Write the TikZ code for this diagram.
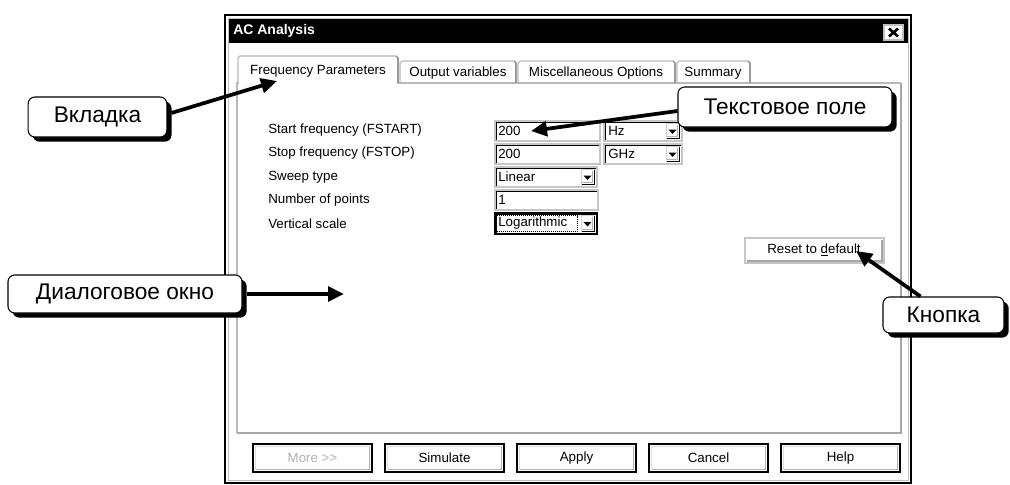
\documentclass[tikz,border=0pt]{standalone}
\usepackage{fontspec}
\setmainfont{Liberation Sans}
\usetikzlibrary{arrows.meta,shadows,calc}
\newcommand\uif{\fontsize{10}{12}\selectfont}
\newcommand\cof{\fontsize{17}{20}\selectfont}
\newcommand\sunkenbox[4]{%
  \fill[white] (#1,#2) rectangle (#3,#4);
  \draw[gray!45,line width=1.1pt] (#1,#2) rectangle (#3,#4);
  \draw[black,line width=0.8pt] ($(#1,#4)+(1.5,-1.5)$) -- ($(#1,#2)+(1.5,1.5)$) -- ($(#3,#2)+(-1.5,1.5)$);
}
\newcommand\combobox[4]{%
  \sunkenbox{#1}{#2}{#3}{#4}
  \fill[white] ($(#3,#2)+(-16,2.5)$) rectangle ($(#3,#4)+(-2.5,-2.5)$);
  \draw[black,line width=1pt] ($(#3,#2)+(-2.5,2.5)$) -- ($(#3,#4)+(-2.5,-2.5)$) -- ($(#3,#4)+(-16,-2.5)$);
  \draw[gray!60,line width=0.6pt] ($(#3,#2)+(-4.5,4)$) -- ($(#3,#4)+(-4.5,-4.5)$) -- ($(#3,#4)+(-15,-4.5)$);
  \draw[gray!35,line width=0.6pt] ($(#3,#4)+(-16,-2.5)$) -- ($(#3,#2)+(-16,2.5)$) -- ($(#3,#2)+(-2.5,2.5)$);
  \fill ($(#3,#2)!0.5!(#3,#4)+(-13.5,-1.5)$) -- ++(8,0) -- ++(-4,4.5) -- cycle;
}
\newcommand\raisedbtn[4]{%
  \fill[white] (#1,#2) rectangle (#3,#4);
  \draw[black,line width=1.5pt] (#1,#2) rectangle (#3,#4);
  \draw[gray!60,line width=0.9pt] ($(#1,#4)+(2.5,-2.5)$) -- ($(#3,#4)+(-2.5,-2.5)$) -- ($(#3,#2)+(-2.5,2.5)$);
  \draw[gray!25,line width=0.9pt] ($(#1,#4)+(2.5,-2.5)$) -- ($(#1,#2)+(2.5,2.5)$) -- ($(#3,#2)+(-2.5,2.5)$);
}
\tikzset{
  lbl/.style={font=\uif, inner sep=0pt, anchor=west},
  ctr/.style={font=\uif, inner sep=0pt},
  callout/.style={draw=black, line width=0.8pt, fill=white, rounded corners=5pt,
    font=\cof, inner sep=0pt, align=center,
    drop shadow={shadow xshift=3.5pt, shadow yshift=-3.5pt, opacity=1, fill=black}},
  pointer/.style={line width=2.8pt, -{Triangle[length=12pt,width=11pt]}}
}
\begin{document}
\begin{tikzpicture}[x=0.75pt,y=-0.75pt]
\useasboundingbox (0,0) rectangle (1010,485);
% window frame
\fill[white] (225,15) rectangle (911,483);
\draw[black,line width=2pt] (225,15) rectangle (911,483);
\draw[gray!50,line width=0.7pt] (228,18) rectangle (908,480);
\fill[black] (229,19) rectangle (908,43);
\node[font=\fontsize{10.5}{12}\selectfont\bfseries, text=white, inner sep=0pt, anchor=west] (title) at (233,31) {AC Analysis};
% close box
\fill[white] (884,25) rectangle (903,40);
\draw[gray!50,line width=0.8pt] (884,25) rectangle (903,40);
\draw[black,line width=2pt] (889,28.5) -- (898,36.5) (898,28.5) -- (889,36.5);
% panel
\draw[gray!55,line width=0.8pt] (237,433) -- (237,83) -- (239,83);
\draw[gray!55,line width=0.8pt] (397,83) -- (901,83);
\draw[gray!70,line width=1.5pt] (901,83) -- (901,433) -- (237,433);
% tabs
\draw[gray!55,line width=0.8pt] (238,83) -- (238,58) -- (240,56) -- (396,56);
\draw[gray!80,line width=1.2pt] (396,56) -- (398,58) -- (398,83);
\draw[gray!55,line width=0.8pt] (400,83) -- (400,63) -- (402,61) -- (514,61);
\draw[gray!80,line width=1.2pt] (514,61) -- (516,63) -- (516,83);
\draw[gray!55,line width=0.8pt] (518,83) -- (518,63) -- (520,61) -- (673,61);
\draw[gray!80,line width=1.2pt] (673,61) -- (675,63) -- (675,83);
\draw[gray!55,line width=0.8pt] (677,83) -- (677,63) -- (679,61) -- (748,61);
\draw[gray!80,line width=1.2pt] (748,61) -- (750,63) -- (750,83);
\node[ctr] (tab1) at (318,71) {Frequency Parameters};
\node[ctr] (tab2) at (458,73) {Output variables};
\node[ctr] (tab3) at (596,73) {Miscellaneous Options};
\node[ctr] (tab4) at (713,73) {Summary};
% labels
\node[lbl] (l1) at (268,130) {Start frequency (FSTART)};
\node[lbl] (l2) at (268,153) {Stop frequency (FSTOP)};
\node[lbl] (l3) at (268,177) {Sweep type};
\node[lbl] (l4) at (268,200) {Number of points};
\node[lbl] (l5) at (268,224) {Vertical scale};
% fields
\sunkenbox{495}{121}{600}{141}
\node[lbl] (f1) at (498,131) {200};
\combobox{604}{121}{682}{141}
\node[lbl] (f1u) at (608,131) {Hz};
\sunkenbox{495}{144}{600}{164}
\node[lbl] (f2) at (498,154) {200};
\combobox{604}{144}{682}{164}
\node[lbl] (f2u) at (608,154) {GHz};
\combobox{495}{167}{597}{187}
\node[lbl] (f3) at (498,177) {Linear};
\sunkenbox{495}{190}{598}{210}
\node[lbl] (f4) at (498,200) {1};
\combobox{495}{213}{597}{234}
\draw[black,line width=1.3pt] (495,213) rectangle (597,234);
\node[lbl] (f5) at (498,223.5) {Logarithmic};
\draw[black,line width=0.5pt,densely dotted] (496.5,215.5) rectangle (577,231.5);
% reset button
\fill[white] (745,238) rectangle (884,263);
\draw[gray!45,line width=1pt] (745,238) rectangle (884,263);
\draw[gray!70,line width=0.8pt] (747,261) -- (882,261) -- (882,240);
\node[ctr] (reset) at (814,250) {Reset to \underline{d}efault};
% bottom buttons
\raisedbtn{253}{444}{372}{472}
\raisedbtn{385}{444}{504}{472}
\raisedbtn{517}{444}{636}{472}
\raisedbtn{649}{444}{768}{472}
\raisedbtn{781}{444}{900}{472}
\node[ctr,text=gray!60] (bmore) at (312.5,458) {More {>}{>}};
\node[ctr] (bsim) at (444.5,458) {Simulate};
\node[ctr] (bapp) at (576.5,458) {Apply};
\node[ctr] (bcan) at (708.5,458) {Cancel};
\node[ctr] (bhelp) at (840.5,458) {Help};
% callouts
\node[callout, minimum width=104pt, minimum height=30pt] (vk) at (97.5,117) {Вкладка};
\node[callout, minimum width=160.5pt, minimum height=30pt] (tp) at (785,107) {Текстовое поле};
\node[callout, minimum width=175.5pt, minimum height=28.5pt] (dw) at (125,294) {Диалоговое окно};
\node[callout, minimum width=90.75pt, minimum height=27pt] (kn) at (943.5,315) {Кнопка};
% pointer targets
\coordinate (tvk) at (277,81);
\coordinate (ttp) at (531,131);
\coordinate (tdw) at (344,294);
\coordinate (tkn) at (856,251);
\draw[pointer] ($(vk.east)+(4,-4)$) -- (tvk);
\draw[pointer] ($(tp.west)+(0,4)$) -- (ttp);
\draw[pointer] ($(dw.east)+(4,0)$) -- (tdw);
\draw[pointer] ($(kn.north west)+(38,0)$) -- (tkn);
\end{tikzpicture}
\end{document}
